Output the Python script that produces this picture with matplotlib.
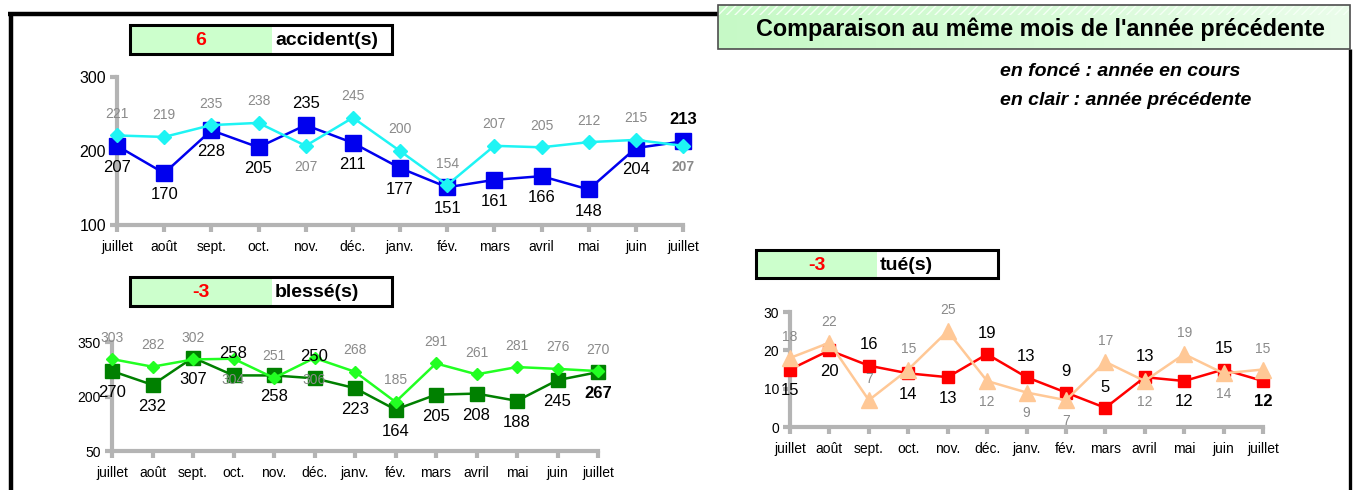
import numpy as np
import matplotlib
matplotlib.use("Agg")
import matplotlib.pyplot as plt
from matplotlib.patches import Rectangle

plt.rcParams['font.family'] = ['Liberation Sans', 'DejaVu Sans']

# --- data ---
months = ['juillet', 'août', 'sept.', 'oct.', 'nov.', 'déc.', 'janv.',
          'fév.', 'mars', 'avril', 'mai', 'juin', 'juillet']

acc_cur = [207, 170, 228, 205, 235, 211, 177, 151, 161, 166, 148, 204, 213]
acc_prev = [221, 219, 235, 238, 207, 245, 200, 154, 207, 205, 212, 215, 207]

bles_cur = [270, 232, 307, 258, 258, 250, 223, 164, 205, 208, 188, 245, 267]
bles_prev = [303, 282, 302, 304, 251, 306, 268, 185, 291, 261, 281, 276, 270]

tues_cur = [15, 20, 16, 14, 13, 19, 13, 9, 5, 13, 12, 15, 12]
tues_prev = [18, 22, 7, 15, 25, 12, 9, 7, 17, 12, 19, 14, 15]

# label placement: 1 = above the point, -1 = below
acc_cur_pos = [-1, -1, -1, -1, 1, -1, -1, -1, -1, -1, -1, -1, 1]
acc_prev_pos = [1, 1, 1, 1, -1, 1, 1, 1, 1, 1, 1, 1, -1]
bles_cur_pos = [-1, -1, -1, 1, -1, 1, -1, -1, -1, -1, -1, -1, -1]
bles_prev_pos = [1, 1, 1, -1, 1, -1, 1, 1, 1, 1, 1, 1, 1]
tues_cur_pos = [-1, -1, 1, -1, -1, 1, 1, 1, 1, 1, -1, 1, -1]
tues_prev_pos = [1, 1, 1, 1, 1, -1, -1, -1, 1, -1, 1, -1, 1]

W, H = 1353, 490
fig = plt.figure(figsize=(W / 100, H / 100), dpi=100)
fig.patch.set_facecolor('white')


def rect(x0, y0, x1, y1):
    return [x0 / W, 1 - y1 / H, (x1 - x0) / W, (y1 - y0) / H]


# overlay in pixel coordinates for frame, boxes and titles
ov = fig.add_axes([0, 0, 1, 1], zorder=0)
ov.set_xlim(0, W)
ov.set_ylim(H, 0)
ov.axis('off')

# black frame lines
ov.plot([8, 718], [14, 14], color='black', lw=3.2, solid_capstyle='butt')
ov.plot([11, 11], [12, H], color='black', lw=3.2, solid_capstyle='butt')
ov.plot([1350, 1350], [49, H], color='black', lw=2.4, solid_capstyle='butt')

# title box with green gradient
grad = np.linspace(0, 1, 256).reshape(1, -1)
cmap = matplotlib.colors.LinearSegmentedColormap.from_list('g', ['#c6f9c6', '#eafdea'])
ov.imshow(grad, cmap=cmap, extent=(718, 1350, 49, 5), aspect='auto', zorder=1)
ov.add_patch(Rectangle((718, 5), 632, 10, facecolor='none', edgecolor='#f4fff4',
                       hatch='////', lw=0, zorder=2))
ov.add_patch(Rectangle((718, 5), 632, 44, facecolor='none', edgecolor='#4d4d4d',
                       lw=1.2, zorder=3))
ov.set_xlim(0, W)
ov.set_ylim(H, 0)
ov.text(1040, 29, "Comparaison au même mois de l'année précédente", fontsize=16.8,
        fontweight='bold', ha='center', va='center', zorder=4)
ov.text(1000, 71, 'en foncé : année en cours', fontsize=14, fontweight='bold',
        fontstyle='italic', ha='left', va='center')
ov.text(1000, 100, 'en clair : année précédente', fontsize=14, fontweight='bold',
        fontstyle='italic', ha='left', va='center')


def value_box(x0, y0, x1, y1, xsplit, diff, name):
    ov.add_patch(Rectangle((x0, y0), xsplit - x0, y1 - y0, facecolor='#ccffcc',
                           edgecolor='none', zorder=2))
    ov.add_patch(Rectangle((x0, y0), x1 - x0, y1 - y0, facecolor='none',
                           edgecolor='black', lw=2.2, zorder=3))
    ov.text((x0 + xsplit) / 2, (y0 + y1) / 2 + 1, f'{diff}', color='red',
            fontsize=14, fontweight='bold', ha='center', va='center')
    ov.text(xsplit + 3, (y0 + y1) / 2 + 1, name, fontsize=14, fontweight='bold',
            ha='left', va='center')


def chart(box, cur, prev, ylim, yticks, cur_st, prev_st, cur_pos, prev_pos,
          bold_prev_last, off, tick_fs):
    ax = fig.add_axes(rect(*box), zorder=2)
    ax.patch.set_alpha(0)
    x = np.arange(len(months))
    ax.plot(x, cur, clip_on=False, zorder=3, **cur_st)
    ax.plot(x, prev, clip_on=False, zorder=4, **prev_st)
    for i, v in enumerate(cur):
        ax.annotate(f'{v}', (i, v), xytext=(0, off * cur_pos[i]),
                    textcoords='offset points', ha='center', va='center',
                    fontsize=12, color='black',
                    fontweight='bold' if i == len(cur) - 1 else 'normal',
                    zorder=6, annotation_clip=False)
    for i, v in enumerate(prev):
        ax.annotate(f'{v}', (i, v), xytext=(0, off * prev_pos[i]),
                    textcoords='offset points', ha='center', va='center',
                    fontsize=10, color='#8a8a8a',
                    fontweight='bold' if (bold_prev_last and i == len(prev) - 1) else 'normal',
                    zorder=6, annotation_clip=False)
    ax.set_xlim(0, len(months) - 1)
    ax.set_ylim(*ylim)
    ax.set_yticks(yticks)
    ax.set_xticks(x)
    ax.set_xticklabels(months)
    for s in ['top', 'right']:
        ax.spines[s].set_visible(False)
    for s in ['left', 'bottom']:
        ax.spines[s].set_color('#b4b4b4')
        ax.spines[s].set_linewidth(3)
    ax.tick_params(axis='both', colors='#b4b4b4', width=3, length=5,
                   labelcolor='black', labelsize=tick_fs)
    ax.tick_params(axis='x', pad=6, labelsize=10)
    ax.tick_params(axis='y', pad=3)
    return ax


# accidents
chart((117, 77, 683, 225), acc_cur, acc_prev, (100, 300), [100, 200, 300],
      dict(color='#0000ee', lw=1.8, marker='s', ms=11.5),
      dict(color='#1ef4f4', lw=1.8, marker='D', ms=7),
      acc_cur_pos, acc_prev_pos, True, 15.5, 11.5)
value_box(130, 25, 392, 54, 272, acc_cur[-1] - acc_prev[-1], 'accident(s)')

# blessés
chart((112, 342, 598, 451), bles_cur, bles_prev, (50, 350), [50, 200, 350],
      dict(color='#008000', lw=1.8, marker='s', ms=10.5),
      dict(color='#22ff22', lw=1.8, marker='D', ms=6.5),
      bles_cur_pos, bles_prev_pos, False, 15.5, 10)
value_box(130, 277, 392, 306, 272, bles_cur[-1] - bles_prev[-1], 'blessé(s)')

# tués
chart((790, 312, 1263, 427), tues_cur, tues_prev, (0, 30), [0, 10, 20, 30],
      dict(color='#ff0000', lw=1.8, marker='s', ms=8.5),
      dict(color='#ffc896', lw=1.8, marker='^', ms=12),
      tues_cur_pos, tues_prev_pos, False, 15, 10)
value_box(756, 250, 998, 278, 877, tues_cur[-1] - tues_prev[-1], 'tué(s)')

fig.savefig('out.png', dpi=100)
